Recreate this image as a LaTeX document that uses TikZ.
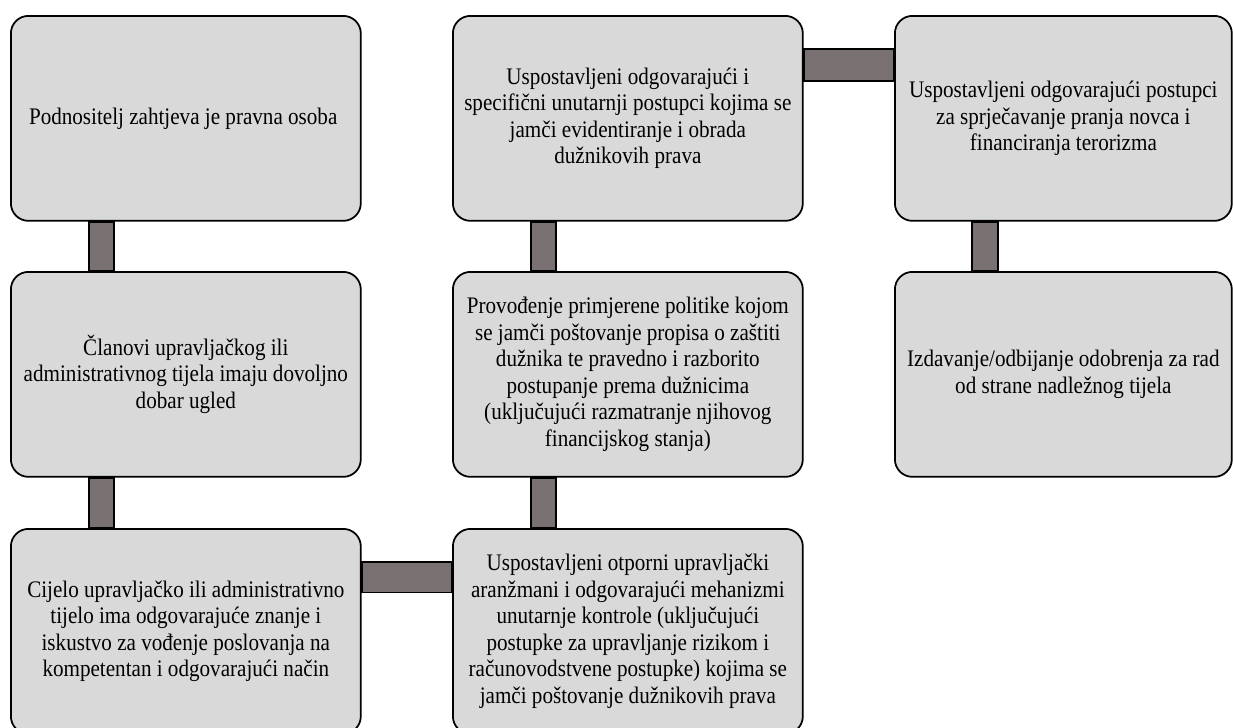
\documentclass[tikz,border=0pt]{standalone}
\usepackage{fontspec}
\setmainfont[FakeStretch=0.89]{Liberation Serif}
\usepackage{xcolor}
\definecolor{sivaKutija}{RGB}{217,217,217}
\definecolor{sivaVeza}{RGB}{121,113,113}
\usetikzlibrary{positioning}

\begin{document}
\begin{tikzpicture}[
    x=0.02cm, y=-0.02cm,
    font=\fontsize{13.5}{15.1}\selectfont,
    kutija/.style={
        rectangle,
        rounded corners=10pt,
        draw=black,
        line width=1pt,
        fill=sivaKutija,
        align=center,
        anchor=north west,
        inner sep=2pt,
        minimum width=7cm,
        minimum height=4.1cm
    },
    veza/.style={
        draw=black,
        line width=1pt,
        fill=sivaVeza
    }
]
\clip (0,0) rectangle (1233,727);

% LIJEVI STUPAC
\node[kutija] (podnositelj) at (10,15)
{
Podnositelj zahtjeva je pravna osoba
};

\node[kutija] (clanovi) at (10,271)
{
Članovi upravljačkog ili\\
administrativnog tijela imaju dovoljno\\
dobar ugled
};

\node[kutija] (cijelo) at (10,528)
{
Cijelo upravljačko ili administrativno\\
tijelo ima odgovarajuće znanje i\\
iskustvo za vođenje poslovanja na\\
kompetentan i odgovarajući način
};

% SREDNJI STUPAC
\node[kutija] (postupci) at (452,15)
{
Uspostavljeni odgovarajući i\\
specifični unutarnji postupci kojima se\\
jamči evidentiranje i obrada\\
dužnikovih prava
};

\node[kutija] (politika) at (452,271)
{
Provođenje primjerene politike kojom\\
se jamči poštovanje propisa o zaštiti\\
dužnika te pravedno i razborito\\
postupanje prema dužnicima\\
(uključujući razmatranje njihovog\\
financijskog stanja)
};

\node[kutija] (otporni) at (452,528)
{
Uspostavljeni otporni upravljački\\
aranžmani i odgovarajući mehanizmi\\
unutarnje kontrole (uključujući\\
postupke za upravljanje rizikom i\\
računovodstvene postupke) kojima se\\
jamči poštovanje dužnikovih prava
};

% DESNI STUPAC
\node[kutija, minimum width=6.74cm] (pranje) at (894,15)
{
Uspostavljeni odgovarajući postupci\\
za sprječavanje pranja novca i\\
financiranja terorizma
};

\node[kutija, minimum width=6.74cm] (odobrenje) at (894,271)
{
Izdavanje/odbijanje odobrenja za rad\\
od strane nadležnog tijela
};

% VEZE
\draw[veza] ([xshift=1.58cm]podnositelj.south west) rectangle ([xshift=2.08cm]clanovi.north west);
\draw[veza] ([xshift=1.58cm]clanovi.south west) rectangle ([xshift=2.08cm]cijelo.north west);
\draw[veza] ([yshift=-0.68cm]cijelo.north east) rectangle ([yshift=-1.29cm]otporni.north west);
\draw[veza] ([xshift=1.58cm]otporni.north west) rectangle ([xshift=2.08cm]politika.south west);
\draw[veza] ([xshift=1.58cm]politika.north west) rectangle ([xshift=2.08cm]postupci.south west);
\draw[veza] ([yshift=-0.68cm]postupci.north east) rectangle ([yshift=-1.32cm]pranje.north west);
\draw[veza] ([xshift=1.56cm]pranje.south west) rectangle ([xshift=2.08cm]odobrenje.north west);

\end{tikzpicture}
\end{document}
